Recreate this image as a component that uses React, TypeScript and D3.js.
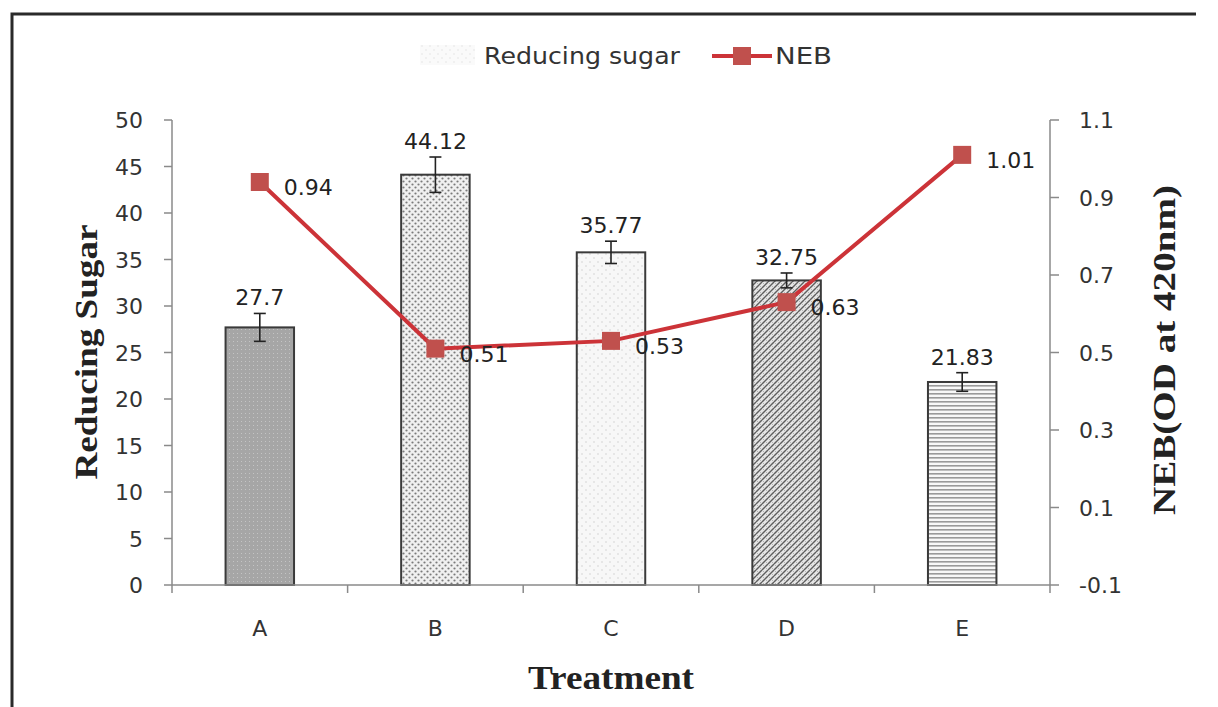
import * as d3 from 'd3';

const treatments = ['A', 'B', 'C', 'D', 'E'];
const sugarValues = [27.7, 44.12, 35.77, 32.75, 21.83];
const sugarErrors = [1.5, 1.9, 1.2, 0.8, 1.0];
const nebValues = [0.94, 0.51, 0.53, 0.63, 1.01];
const sugarTicks = [0, 5, 10, 15, 20, 25, 30, 35, 40, 45, 50];
const nebTicks = [-0.1, 0.1, 0.3, 0.5, 0.7, 0.9, 1.1];
const patternIds = ['patA', 'patB', 'patC', 'patD', 'patE'];

export default function App() {
  const width = 1218;
  const height = 707;
  const left = 172;
  const right = 1050;
  const top = 120;
  const bottom = 585;

  const x = d3.scaleBand<string>().domain(treatments).range([left, right]);
  const ySugar = d3.scaleLinear().domain([0, 50]).range([bottom, top]);
  const yNeb = d3.scaleLinear().domain([-0.1, 1.1]).range([bottom, top]);
  const barW = x.bandwidth() * 0.39;
  const cx = (t: string) => (x(t) ?? 0) + x.bandwidth() / 2;

  const line = d3
    .line<number>()
    .x((_, i) => cx(treatments[i]))
    .y((d) => yNeb(d));

  const axisColor = '#8a8a8a';
  const tickFont = '"DejaVu Sans", Verdana, sans-serif';
  const titleFont = '"Liberation Serif", "DejaVu Serif", serif';
  const red = '#c0504d';
  const lineRed = '#cc3338';
  const fs = 22;

  return (
    <svg
      width={width}
      height={height}
      style={{ position: 'absolute', left: 0, top: 0, background: '#fff' }}
    >
      <defs>
        <pattern id="patA" width="4" height="4" patternUnits="userSpaceOnUse">
          <rect width="4" height="4" fill="#a6a6a6" />
          <rect x="1" y="1" width="1" height="1" fill="#c4c4c4" />
        </pattern>
        <pattern id="patB" width="6" height="6" patternUnits="userSpaceOnUse">
          <rect width="6" height="6" fill="#f0f0f0" />
          <circle cx="1.5" cy="1.5" r="1.1" fill="#7a7a7a" />
          <circle cx="4.5" cy="4.5" r="1.1" fill="#7a7a7a" />
        </pattern>
        <pattern id="patC" width="8" height="8" patternUnits="userSpaceOnUse">
          <rect width="8" height="8" fill="#f7f7f7" />
          <circle cx="2" cy="2" r="0.8" fill="#d2d2d2" />
          <circle cx="6" cy="6" r="0.8" fill="#d2d2d2" />
        </pattern>
        <pattern id="patD" width="6" height="6" patternUnits="userSpaceOnUse">
          <rect width="6" height="6" fill="#e6e6e6" />
          <path d="M0,6 L6,0" stroke="#5e5e5e" strokeWidth="1.4" />
          <path d="M0,0 L6,6" stroke="#a8a8a8" strokeWidth="0.8" />
        </pattern>
        <pattern id="patE" width="4" height="4" patternUnits="userSpaceOnUse">
          <rect width="4" height="4" fill="#f8f8f8" />
          <rect y="1" width="4" height="1.6" fill="#9a9a9a" />
        </pattern>
      </defs>

      {/* frame */}
      <path d="M12,707 L12,14 L1196,14" fill="none" stroke="#2a2a2a" strokeWidth={3} />

      {/* legend */}
      <rect x={420} y={45} width={55} height={20} fill="url(#patC)" opacity={0.6} />
      <text
        x={484}
        y={64}
        fontFamily={tickFont}
        fontSize={23}
        fill="#333"
        textLength={196}
        lengthAdjust="spacingAndGlyphs"
      >
        Reducing sugar
      </text>
      <line x1={712} y1={56} x2={772} y2={56} stroke={lineRed} strokeWidth={4} />
      <rect x={733} y={47} width={18} height={18} fill={red} />
      <text
        x={775}
        y={64}
        fontFamily={tickFont}
        fontSize={23}
        fill="#333"
        textLength={57}
        lengthAdjust="spacingAndGlyphs"
      >
        NEB
      </text>

      {/* bars */}
      {treatments.map((t, i) => (
        <rect
          key={t}
          x={cx(t) - barW / 2}
          y={ySugar(sugarValues[i])}
          width={barW}
          height={bottom - ySugar(sugarValues[i])}
          fill={`url(#${patternIds[i]})`}
          stroke="#3a3a3a"
          strokeWidth={2}
        />
      ))}

      {/* error bars */}
      {treatments.map((t, i) => {
        const hi = ySugar(sugarValues[i] + sugarErrors[i]);
        const lo = ySugar(sugarValues[i] - sugarErrors[i]);
        const c = cx(t);
        return (
          <g key={t} stroke="#222" strokeWidth={1.6}>
            <line x1={c} x2={c} y1={hi} y2={lo} />
            <line x1={c - 6} x2={c + 6} y1={hi} y2={hi} />
            <line x1={c - 6} x2={c + 6} y1={lo} y2={lo} />
          </g>
        );
      })}

      {/* bar labels */}
      {treatments.map((t, i) => (
        <text
          key={t}
          x={cx(t)}
          y={ySugar(sugarValues[i] + sugarErrors[i]) - 8}
          textAnchor="middle"
          fontFamily={tickFont}
          fontSize={fs}
          fill="#222"
        >
          {String(sugarValues[i])}
        </text>
      ))}

      {/* axes */}
      <g stroke={axisColor} strokeWidth={1.5}>
        <line x1={left} x2={left} y1={top} y2={bottom} />
        <line x1={right} x2={right} y1={top} y2={bottom} />
        <line x1={left} x2={right} y1={bottom} y2={bottom} />
        {sugarTicks.map((v) => (
          <line key={v} x1={left - 8} x2={left} y1={ySugar(v)} y2={ySugar(v)} />
        ))}
        {nebTicks.map((v) => (
          <line key={v} x1={right} x2={right + 9} y1={yNeb(v)} y2={yNeb(v)} />
        ))}
        {[...treatments.map((t) => x(t) ?? 0), right].map((p, i) => (
          <line key={i} x1={p} x2={p} y1={bottom} y2={bottom + 8} />
        ))}
      </g>

      {sugarTicks.map((v) => (
        <text
          key={v}
          x={left - 29}
          y={ySugar(v) + 8}
          textAnchor="end"
          fontFamily={tickFont}
          fontSize={fs}
          fill="#333"
        >
          {v}
        </text>
      ))}
      {nebTicks.map((v) => (
        <text
          key={v}
          x={right + 29}
          y={yNeb(v) + 8}
          fontFamily={tickFont}
          fontSize={fs}
          fill="#333"
        >
          {d3.format('.1f')(v).replace('−', '-')}
        </text>
      ))}
      {treatments.map((t) => (
        <text
          key={t}
          x={cx(t)}
          y={bottom + 51}
          textAnchor="middle"
          fontFamily={tickFont}
          fontSize={fs}
          fill="#333"
        >
          {t}
        </text>
      ))}

      {/* NEB line */}
      <path d={line(nebValues) || ''} fill="none" stroke={lineRed} strokeWidth={4} />
      {nebValues.map((v, i) => (
        <rect
          key={i}
          x={cx(treatments[i]) - 9}
          y={yNeb(v) - 9}
          width={18}
          height={18}
          fill={red}
        />
      ))}
      {nebValues.map((v, i) => (
        <text
          key={i}
          x={cx(treatments[i]) + 24}
          y={yNeb(v) + 13}
          fontFamily={tickFont}
          fontSize={fs}
          fill="#222"
        >
          {d3.format('.2f')(v)}
        </text>
      ))}

      {/* titles */}
      <text
        transform={`translate(97,352) rotate(-90)`}
        textAnchor="middle"
        fontFamily={titleFont}
        fontWeight="bold"
        fontSize={32}
        fill="#222"
        textLength={255}
        lengthAdjust="spacingAndGlyphs"
      >
        Reducing Sugar
      </text>
      <text
        transform={`translate(1175,350) rotate(-90)`}
        textAnchor="middle"
        fontFamily={titleFont}
        fontWeight="bold"
        fontSize={32}
        fill="#222"
        textLength={330}
        lengthAdjust="spacingAndGlyphs"
      >
        NEB(OD at 420nm)
      </text>
      <text
        x={611}
        y={689}
        textAnchor="middle"
        fontFamily={titleFont}
        fontWeight="bold"
        fontSize={33}
        fill="#222"
        textLength={166}
        lengthAdjust="spacingAndGlyphs"
      >
        Treatment
      </text>
    </svg>
  );
}
